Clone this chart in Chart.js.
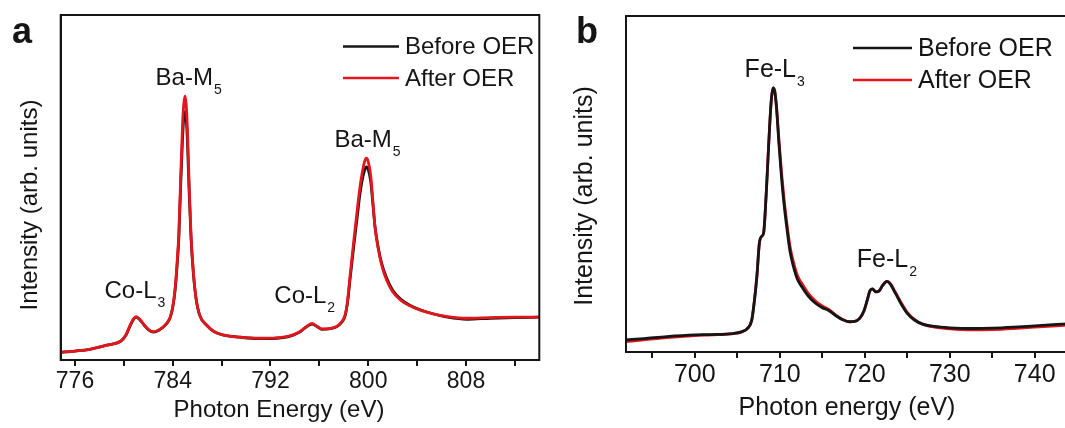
<!DOCTYPE html>
<html>
<head>
<meta charset="utf-8">
<script src="https://cdn.jsdelivr.net/npm/chart.js@4.4.1/dist/chart.umd.min.js"></script>
<style>
  html, body { margin: 0; padding: 0; background: #fff; overflow: hidden; width: 1065px; height: 428px; }
  canvas { position: absolute; top: 0; }
  #chart-a { left: 0; }
  #chart-b { left: 560px; }
</style>
</head>
<body>
<canvas id="chart-a" width="545" height="428"></canvas>
<canvas id="chart-b" width="510" height="428"></canvas>
<script>
// Panel a: Ba-M / Co-L edges
const energyA = [
  774.8, 776, 777.2, 778.6, 779.8, 780.2, 780.5, 780.8, 781.0, 781.3,
  781.7, 782.1, 782.4, 782.9, 783.5, 783.8, 784.0, 784.2, 784.35, 784.5,
  784.65, 784.8, 784.9, 785.0, 785.1, 785.2, 785.35, 785.5, 785.7, 785.9,
  786.2, 786.8, 787.4, 788.2, 789.5, 791, 792.5, 793.5, 794.4, 794.9,
  795.4, 795.8, 796.2, 796.8, 797.4, 797.8, 798.1, 798.3, 798.5, 798.8,
  799.1, 799.3, 799.5, 799.7, 799.85, 800.0, 800.2, 800.4, 800.55, 800.8,
  801.1, 801.5, 802.0, 802.7, 803.4, 804.3, 805.3, 806.5, 808.1, 810,
  812, 814.0
];
const beforeA = [
  2.2, 2.6, 3.1, 4.3, 5.6, 7.4, 9.8, 11.8, 12.4, 11.7,
  9.9, 8.5, 8.1, 8.7, 10.5, 12.4, 15.2, 20.5, 27, 35.5,
  50.5, 64, 70, 72, 70, 63.5, 48, 35, 24.5, 18,
  13, 10.0, 8.2, 7.2, 6.6, 6.2, 6.3, 6.8, 8.1, 9.5,
  10.4, 9.7, 8.9, 9.0, 9.6, 10.8, 12.7, 16.5, 23, 32.5,
  41.5, 47.5, 52, 55, 56, 55.2, 51.8, 44.5, 38.8, 33,
  28, 23.8, 20.2, 17.5, 15.9, 14.5, 13.4, 12.4, 11.8, 12.1,
  12.3, 12.4
];
const afterA = [
  2.2, 2.6, 3.1, 4.3, 5.6, 7.5, 10.0, 12.0, 12.6, 11.8,
  10.0, 8.6, 8.2, 8.8, 10.6, 12.5, 15.4, 21, 28, 37,
  53, 68, 74, 76.5, 74, 67, 50, 36, 25, 18,
  13, 10.0, 8.2, 7.2, 6.6, 6.3, 6.4, 6.9, 8.2, 9.6,
  10.6, 9.8, 9.0, 9.1, 9.7, 11, 13, 17, 24, 34,
  43.5, 49.5, 54.1, 57.5, 58.5, 57.5, 53.5, 45, 38.6, 32.5,
  27.5, 23.2, 19.8, 17.2, 15.7, 14.4, 13.4, 12.6, 12.1, 12.3,
  12.4, 12.4
];
const tickLabelsA = [776, 784, 792, 800, 808];

// Panel b: Fe-L edge
const energyB = [
  691.9, 694, 696.7, 700, 702, 704.5, 705.5, 706.2, 706.7, 707.0,
  707.3, 707.6, 707.9, 708.1, 708.4, 708.6, 708.8, 709.0, 709.2, 709.4,
  709.6, 709.9, 710.2, 710.5, 710.8, 711.2, 711.6, 712.1, 712.7, 713.4,
  714.2, 715.0, 715.8, 716.6, 717.4, 718.2, 718.8, 719.4, 719.9, 720.3,
  720.6, 720.9, 721.3, 721.7, 722.1, 722.6, 723.0, 723.6, 724.3, 725.0,
  725.8, 726.8, 728.2, 730, 732.6, 735, 737.5, 740, 743.8
];
const beforeB = [
  3.6, 4.0, 4.6, 5.1, 5.2, 5.5, 6.0, 7.0, 9.5, 15,
  22.4, 32.5, 34.5, 35.5, 47, 57, 67, 75, 78.6, 77.5,
  73, 62, 52, 44, 37.5, 30, 25.5, 21.5, 19, 16.5,
  14.5, 13.2, 12.3, 10.8, 9.6, 9.0, 9.1, 10.0, 12.2, 15.5,
  18.2, 18.8, 17.9, 18.2, 19.8, 21.0, 20.2, 17.5, 14.2, 11.5,
  9.6, 8.3, 7.6, 7.2, 7.0, 7.1, 7.4, 7.8, 8.4
];
const afterB = [
  3.1, 3.6, 4.3, 4.9, 5.1, 5.5, 6.0, 7.0, 9.5, 15,
  22.4, 32.5, 34.5, 35.5, 47, 57, 67, 75, 78.6, 77.8,
  73.5, 63, 53.5, 45.5, 39, 31.5, 26.8, 22.6, 20, 17.3,
  15.2, 13.7, 12.6, 11.0, 9.7, 9.0, 9.1, 10.0, 12.2, 15.5,
  18.2, 18.8, 17.9, 18.2, 19.8, 21.0, 20.4, 17.8, 14.6, 11.8,
  9.8, 8.3, 7.4, 6.9, 6.6, 6.7, 7.0, 7.4, 8.0
];
const tickLabelsB = [700, 710, 720, 730, 740];

const seriesNames = ['Before OER', 'After OER'];
const BLACK = '#151515';
const RED = '#e3161c';
const FAMILY = "'Liberation Sans', Arial, sans-serif";

Chart.defaults.font.family = FAMILY;
Chart.defaults.color = '#151515';

function toPoints(xs, ys) {
  return xs.map((x, i) => ({ x: x, y: ys[i] }));
}

// frame, legend, peak labels, axis titles and panel letter
const overlayPlugin = {
  id: 'overlay',
  afterDatasetsDraw(chart, args, o) {
    const ctx = chart.ctx;
    const area = chart.chartArea;
    const xs = chart.scales.x;
    const ys = chart.scales.y;
    ctx.save();

    ctx.strokeStyle = BLACK;
    ctx.lineWidth = 2;
    ctx.strokeRect(area.left, area.top, area.right - area.left, area.bottom - area.top);

    ctx.font = o.font + 'px ' + FAMILY;
    ctx.textAlign = 'left';
    ctx.textBaseline = 'middle';
    chart.data.datasets.forEach((ds, i) => {
      const y = o.legend.y + i * o.legend.gap;
      ctx.strokeStyle = ds.borderColor;
      ctx.lineWidth = 2.5;
      ctx.beginPath();
      ctx.moveTo(o.legend.x, y);
      ctx.lineTo(o.legend.x + o.legend.len, y);
      ctx.stroke();
      ctx.fillStyle = BLACK;
      ctx.fillText(ds.label, o.legend.x + o.legend.len + 6, y + 1);
    });

    ctx.textBaseline = 'alphabetic';
    o.peaks.forEach(p => {
      ctx.font = o.font + 'px ' + FAMILY;
      const w1 = ctx.measureText(p.text).width;
      ctx.font = o.subFont + 'px ' + FAMILY;
      const w2 = ctx.measureText(p.sub).width;
      const left = xs.getPixelForValue(p.x) - (w1 + w2 + 1) / 2;
      const base = ys.getPixelForValue(p.y);
      ctx.font = o.font + 'px ' + FAMILY;
      ctx.fillText(p.text, left, base);
      ctx.font = o.subFont + 'px ' + FAMILY;
      ctx.fillText(p.sub, left + w1 + 1, base + 9);
    });

    ctx.font = o.font + 'px ' + FAMILY;
    ctx.textAlign = 'center';
    ctx.textBaseline = 'middle';
    ctx.fillText(o.xTitle.text, o.xTitle.x, o.xTitle.y);
    ctx.save();
    ctx.translate(o.yTitle.x, o.yTitle.y);
    ctx.rotate(-Math.PI / 2);
    ctx.fillText(o.yTitle.text, 0, 0);
    ctx.restore();

    ctx.font = 'bold 36px ' + FAMILY;
    ctx.textAlign = 'left';
    ctx.textBaseline = 'alphabetic';
    ctx.fillText(o.letter.text, o.letter.x, o.letter.y);
    ctx.restore();
  }
};

function makeChart(id, p) {
  const ctx = document.getElementById(id).getContext('2d');
  return new Chart(ctx, {
    type: 'line',
    data: {
      datasets: [{
        label: seriesNames[0],
        data: toPoints(p.energy, p.before),
        borderColor: BLACK,
        order: p.blackOrder
      }, {
        label: seriesNames[1],
        data: toPoints(p.energy, p.after),
        borderColor: RED,
        order: 1 - p.blackOrder
      }]
    },
    options: {
      responsive: false,
      devicePixelRatio: 1,
      animation: false,
      layout: { autoPadding: false, padding: p.padding },
      elements: {
        line: { borderWidth: 2.8, cubicInterpolationMode: 'monotone', fill: false },
        point: { radius: 0 }
      },
      scales: {
        x: {
          type: 'linear',
          min: p.xMin,
          max: p.xMax,
          afterFit: (s) => { s.height = p.xHeight; },
          grid: { drawOnChartArea: false, drawTicks: true, tickLength: 6, color: BLACK, lineWidth: 2 },
          border: { display: true, color: BLACK, width: 2 },
          ticks: {
            stepSize: p.step,
            includeBounds: false,
            autoSkip: false,
            maxRotation: 0,
            padding: 2,
            color: BLACK,
            font: { size: p.tickFont },
            callback: (v) => p.tickLabels.includes(v) ? String(v) : ''
          }
        },
        y: {
          min: 0,
          max: 100,
          afterFit: (s) => { s.width = p.yWidth; },
          grid: { display: false },
          border: { display: true, color: BLACK, width: 2 },
          ticks: { display: false }
        }
      },
      plugins: {
        legend: { display: false },
        tooltip: { enabled: false },
        overlay: p.overlay
      }
    },
    plugins: [overlayPlugin]
  });
}

const chartA = makeChart('chart-a', {
  energy: energyA, before: beforeA, after: afterA, tickLabels: tickLabelsA,
  blackOrder: 1,
  xMin: 774.83, xMax: 814.0, step: 4, tickFont: 23,
  padding: { left: 0, top: 15, right: 5.7, bottom: 0 },
  xHeight: 68, yWidth: 60.7,
  overlay: {
    font: 24, subFont: 14,
    legend: { x: 343, y: 46.5, gap: 31.5, len: 56 },
    peaks: [
      { text: 'Ba-M', sub: '5', x: 785.3, y: 79.6 },
      { text: 'Ba-M', sub: '5', x: 799.94, y: 61.6 },
      { text: 'Co-L', sub: '3', x: 780.9, y: 17.9 },
      { text: 'Co-L', sub: '2', x: 794.8, y: 16.4 }
    ],
    xTitle: { text: 'Photon Energy (eV)', x: 279, y: 410 },
    yTitle: { text: 'Intensity (arb. units)', x: 30, y: 205 },
    letter: { text: 'a', x: 12, y: 43 }
  }
});

const chartB = makeChart('chart-b', {
  energy: energyB, before: beforeB, after: afterB, tickLabels: tickLabelsB,
  blackOrder: 0,
  xMin: 691.9, xMax: 743.8, step: 5, tickFont: 25,
  padding: { left: 0, top: 16, right: 3, bottom: 0 },
  xHeight: 76, yWidth: 66,
  overlay: {
    font: 25, subFont: 14,
    legend: { x: 293, y: 48, gap: 32, len: 59 },
    peaks: [
      { text: 'Fe-L', sub: '3', x: 709.4, y: 81.9 },
      { text: 'Fe-L', sub: '2', x: 722.6, y: 25.2 }
    ],
    xTitle: { text: 'Photon energy (eV)', x: 287, y: 408 },
    yTitle: { text: 'Intensity (arb. units)', x: 25, y: 196 },
    letter: { text: 'b', x: 16, y: 43 }
  }
});
</script>
</body>
</html>
